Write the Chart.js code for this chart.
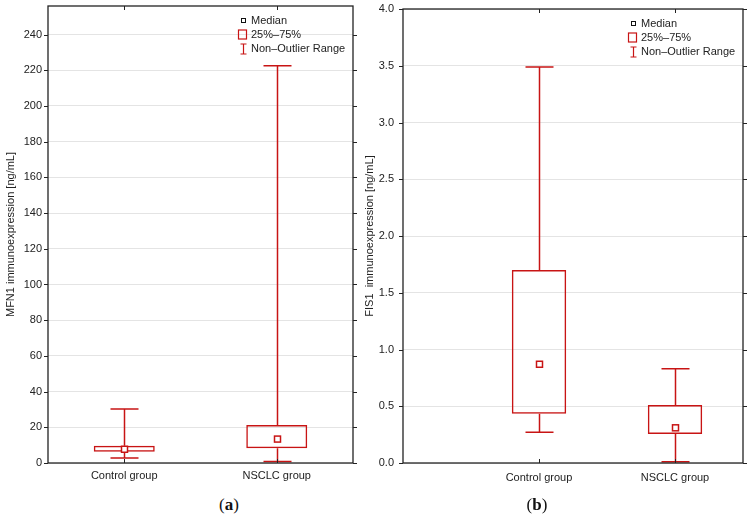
<!DOCTYPE html>
<html>
<head>
<meta charset="utf-8">
<script src="https://cdn.jsdelivr.net/npm/chart.js@4.4.0/dist/chart.umd.min.js"></script>
<style>
  body { margin: 0; background: #fff; width: 751px; height: 518px; position: relative; overflow: hidden; }
  #wrapA { position: absolute; left: 0; top: 0; width: 365px; height: 490px; }
  #wrapB { position: absolute; left: 362px; top: 0; width: 389px; height: 490px; }
  .cap { position: absolute; top: 495px; width: 40px; text-align: center;
         font-family: "Liberation Serif", "DejaVu Serif", serif; font-size: 17px; color: #111; }
</style>
</head>
<body>
<div id="wrapA"><canvas id="chartA"></canvas></div>
<div id="wrapB"><canvas id="chartB"></canvas></div>
<div class="cap" style="left:209px">(<b>a</b>)</div>
<div class="cap" style="left:517px">(<b>b</b>)</div>

<script>
// --- data ---
const groups = ["Control group", "NSCLC group"];
const legendLabels = ["Median", "25%–75%", "Non–Outlier Range"];

// (a) MFN1
const mfn1Min = [2.8, 0.8];
const mfn1Q1 = [6.3, 8.2];
const mfn1Median = [7.7, 13.4];
const mfn1Q3 = [9.7, 21.3];
const mfn1Max = [30.2, 222.5];
const mfn1Ticks = [0, 20, 40, 60, 80, 100, 120, 140, 160, 180, 200, 220, 240];

// (b) FIS1
const fis1Min = [0.27, 0.01];
const fis1Q1 = [0.435, 0.255];
const fis1Median = [0.87, 0.31];
const fis1Q3 = [1.70, 0.51];
const fis1Max = [3.49, 0.83];
const fis1Ticks = [0, 0.5, 1.0, 1.5, 2.0, 2.5, 3.0, 3.5, 4.0];

const RED = "rgb(200,20,20)";

Chart.defaults.font.family = '"Liberation Sans", Arial, sans-serif';
Chart.defaults.font.size = 11;
Chart.defaults.color = "#222";

// frame round the plot area, with small tick marks
const frame = {
  id: "frame",
  afterDraw(chart) {
    const { ctx, chartArea: a, scales: { x, y } } = chart;
    ctx.save();
    ctx.strokeStyle = "#222";
    ctx.lineWidth = 1.3;
    ctx.strokeRect(a.left, a.top, a.right - a.left, a.bottom - a.top);
    ctx.lineWidth = 1;
    ctx.beginPath();
    y.ticks.forEach(t => {
      const py = Math.round(y.getPixelForValue(t.value)) + 0.5;
      ctx.moveTo(a.left - 4, py); ctx.lineTo(a.left, py);
      ctx.moveTo(a.right, py); ctx.lineTo(a.right + 4, py);
    });
    x.ticks.forEach(t => {
      const px = Math.round(x.getPixelForValue(t.value)) + 0.5;
      ctx.moveTo(px, a.bottom); ctx.lineTo(px, a.bottom - 4);
      ctx.moveTo(px, a.top); ctx.lineTo(px, a.top + 4);
    });
    ctx.stroke();
    ctx.restore();
  }
};

// whiskers and median markers
const boxPlot = {
  id: "boxPlot",
  afterDatasetsDraw(chart, args, opts) {
    const { ctx, scales: { x, y } } = chart;
    ctx.save();
    ctx.strokeStyle = RED;
    ctx.lineWidth = 1.5;
    opts.lo.forEach((lo, i) => {
      const px = Math.round(x.getPixelForValue(i + 1)) + 0.5;
      const yLo = y.getPixelForValue(lo);
      const yHi = y.getPixelForValue(opts.hi[i]);
      const yQ1 = y.getPixelForValue(opts.q1[i]);
      const yQ3 = y.getPixelForValue(opts.q3[i]);
      const yMed = y.getPixelForValue(opts.med[i]);
      ctx.beginPath();
      ctx.moveTo(px, yHi); ctx.lineTo(px, yQ3);
      ctx.moveTo(px, yQ1); ctx.lineTo(px, yLo);
      ctx.moveTo(px - 14, yHi); ctx.lineTo(px + 14, yHi);
      ctx.moveTo(px - 14, yLo); ctx.lineTo(px + 14, yLo);
      ctx.stroke();
      ctx.fillStyle = "#fff";
      ctx.fillRect(px - 3, yMed - 3, 6, 6);
      ctx.strokeRect(px - 3, yMed - 3, 6, 6);
    });
    ctx.restore();
  }
};

// legend in the top right corner of the plot
const boxLegend = {
  id: "boxLegend",
  afterDraw(chart) {
    const { ctx, chartArea: a } = chart;
    const mx = a.right - 110, tx = a.right - 102;
    const rows = [a.top + 14.5, a.top + 28.5, a.top + 42.5];
    ctx.save();
    ctx.font = '11px "Liberation Sans", Arial, sans-serif';
    ctx.fillStyle = "#222";
    ctx.textBaseline = "middle";
    legendLabels.forEach((l, i) => ctx.fillText(l, tx, rows[i]));
    ctx.lineWidth = 1;
    ctx.strokeStyle = "#111";
    ctx.strokeRect(Math.round(mx) - 1.5, Math.round(rows[0]) - 2.5, 4, 4);
    ctx.strokeStyle = RED;
    ctx.lineWidth = 1.2;
    ctx.strokeRect(Math.round(mx) - 4.5, Math.round(rows[1]) - 5, 8, 9);
    const ix = Math.round(mx) + 0.5, iy = Math.round(rows[2]);
    ctx.beginPath();
    ctx.moveTo(ix - 3, iy - 5); ctx.lineTo(ix + 3, iy - 5);
    ctx.moveTo(ix, iy - 5); ctx.lineTo(ix, iy + 5);
    ctx.moveTo(ix - 3, iy + 5); ctx.lineTo(ix + 3, iy + 5);
    ctx.stroke();
    ctx.restore();
  }
};

function makeBoxChart(id, cfg) {
  const ctx = document.getElementById(id).getContext("2d");
  return new Chart(ctx, {
    type: "bar",
    data: {
      datasets: [{
        label: legendLabels[1],
        data: groups.map((g, i) => ({ x: i + 1, y: [cfg.q1[i], cfg.q3[i]] })),
        backgroundColor: "rgba(255,255,255,0)",
        borderColor: RED,
        borderWidth: 1.5,
        borderSkipped: false,
        barPercentage: 0.4,
        categoryPercentage: 1,
      }],
    },
    options: {
      responsive: true,
      maintainAspectRatio: false,
      animation: false,
      layout: { padding: cfg.padding },
      plugins: {
        legend: { display: false },
        tooltip: { enabled: false },
        boxPlot: { lo: cfg.lo, q1: cfg.q1, med: cfg.med, q3: cfg.q3, hi: cfg.hi },
      },
      scales: {
        x: {
          type: "linear",
          offset: false,
          min: cfg.xMin,
          max: 2.5,
          grid: { display: false, offset: false, drawTicks: false },
          border: { display: false },
          afterBuildTicks: s => { s.ticks = groups.map((g, i) => ({ value: i + 1 })); },
          afterFit: s => { s.height = 27; s.paddingLeft = 0; s.paddingRight = 0; },
          ticks: {
            padding: cfg.xPad,
            maxRotation: 0,
            autoSkip: false,
            callback: v => groups[v - 1],
          },
        },
        y: {
          min: 0,
          max: cfg.yMax,
          grid: { color: "#e4e4e4", drawTicks: false },
          border: { display: false },
          afterBuildTicks: s => { s.ticks = cfg.ticks.map(v => ({ value: v })); },
          afterFit: s => { s.width = cfg.yWidth; s.paddingTop = 0; s.paddingBottom = 0; },
          ticks: {
            padding: cfg.tickPad,
            callback: cfg.fmt,
          },
          title: {
            display: true,
            text: cfg.title,
            padding: { top: cfg.titlePad, bottom: 0 },
            font: { size: 11 },
          },
        },
      },
    },
    plugins: [boxPlot, frame, boxLegend],
  });
}

makeBoxChart("chartA", {
  lo: mfn1Min, q1: mfn1Q1, med: mfn1Median, q3: mfn1Q3, hi: mfn1Max,
  ticks: mfn1Ticks, yMax: 256, xMin: 0.5,
  fmt: v => v,
  title: "MFN1 immunoexpression [ng/mL]",
  padding: { left: 0, right: 12, top: 6, bottom: 0 },
  yWidth: 48, tickPad: 6, titlePad: 4, xPad: 6,
});

makeBoxChart("chartB", {
  lo: fis1Min, q1: fis1Q1, med: fis1Median, q3: fis1Q3, hi: fis1Max,
  ticks: fis1Ticks, yMax: 4.0, xMin: 0,
  fmt: v => Number(v).toFixed(1),
  title: "FIS1  immunoexpression [ng/mL]",
  padding: { left: 0, right: 8, top: 9, bottom: 0 },
  yWidth: 41, tickPad: 9, titlePad: 1, xPad: 8,
});
</script>
</body>
</html>
